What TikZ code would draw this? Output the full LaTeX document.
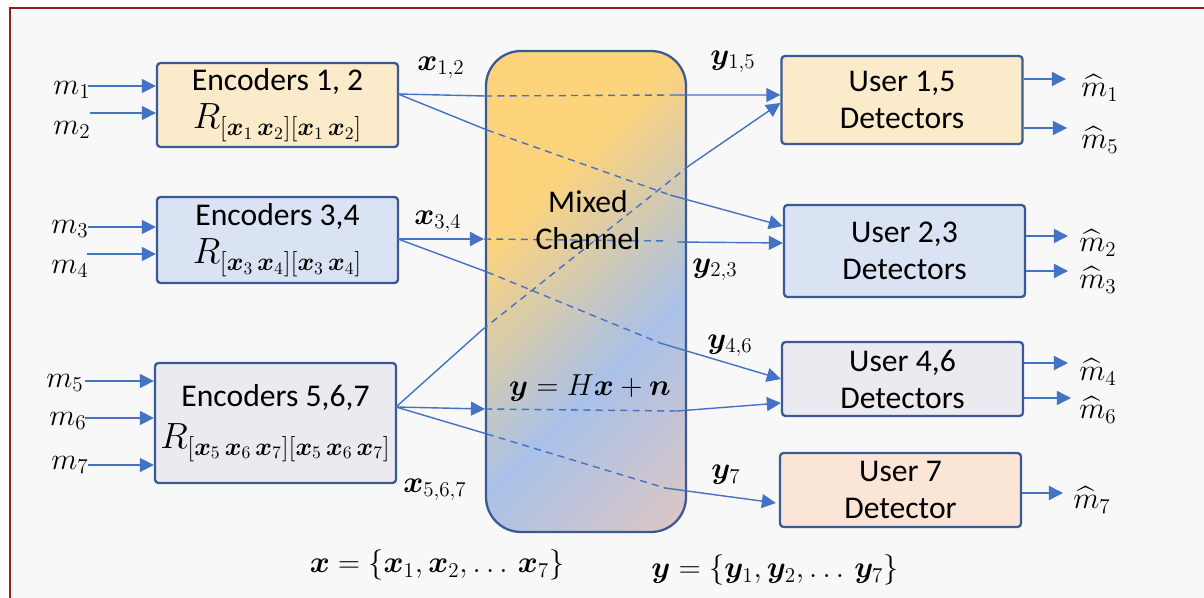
\documentclass[tikz,border=0pt]{standalone}
\usepackage{amsmath}
\usepackage{bm}
\usepackage{fontspec}
\setmainfont{Carlito}
\usepackage{tikz}
\usetikzlibrary{arrows.meta, positioning, calc, shadings}
\usepackage{xcolor}
\definecolor{pagebg}{HTML}{F8F8F8}
\definecolor{framered}{HTML}{9B1C1C}
\definecolor{boxline}{HTML}{3A5A96}
\definecolor{wire}{HTML}{4472C4}
\definecolor{goldfill}{HTML}{FCEBCB}
\definecolor{bluefill}{HTML}{DAE3F3}
\definecolor{lilacfill}{HTML}{ECEAF1}
\definecolor{peachfill}{HTML}{FBE5D6}
\definecolor{chorange}{HTML}{FDD37C}
\definecolor{chblue}{HTML}{A9C1E8}
\definecolor{chpeach}{HTML}{F2C9B5}
\pgfdeclarehorizontalshading{chanshade}{100bp}{color(0bp)=(chorange); color(39bp)=(chorange); color(50bp)=(chblue); color(64bp)=(chpeach); color(100bp)=(chpeach)}

\begin{document}
\begin{tikzpicture}[
    every node/.style={font=\fontsize{18}{21}\selectfont},
    enc/.style={draw=boxline, line width=1.3pt, rounded corners=2pt,
                minimum width=4.82cm, align=center, inner sep=1pt},
    usr/.style={draw=boxline, line width=1.3pt, rounded corners=2pt,
                minimum width=4.82cm, align=center, inner sep=1pt},
    chan/.style={draw=boxline, line width=1.3pt, rounded corners=0.7cm,
                 minimum width=4cm, minimum height=9.62cm,
                 path picture={\shade[shading=chanshade, shading angle=-45]
                   ($(path picture bounding box.center)+(0,-2.10)$) +(-8,-8) rectangle +(8,8);}},
    wire/.style={draw=wire, line width=0.8pt},
    dsh/.style={wire, dash pattern=on 4pt off 3pt},
    arr/.style={wire, -{Triangle[length=8pt, width=8pt]}}
]
    \useasboundingbox (0,0) rectangle (24.08,-11.96);
    \fill[pagebg] (0.2,-0.16) rectangle (24.4,-12.3);
    \draw[framered, line width=1.6pt] (0.2,-0.16) rectangle (24.4,-12.3);

    \node[chan] (chan) at (11.72,-5.83) {};

    \node[enc, fill=goldfill, minimum height=1.68cm] (enc12) at (5.55,-2.10)
        {Encoders 1, 2\\[1pt] \fontsize{20}{22}\selectfont$R_{[\bm{x}_1\,\bm{x}_2][\bm{x}_1\,\bm{x}_2]}$};
    \node[enc, fill=bluefill, minimum height=1.72cm] (enc34) at (5.55,-4.80)
        {Encoders 3,4\\[1pt] \fontsize{20}{22}\selectfont$R_{[\bm{x}_3\,\bm{x}_4][\bm{x}_3\,\bm{x}_4]}$};
    \node[enc, fill=lilacfill, minimum height=2.40cm] (enc567) at (5.51,-8.46)
        {Encoders 5,6,7\\[3pt] \fontsize{20}{22}\selectfont$R_{[\bm{x}_5\,\bm{x}_6\,\bm{x}_7][\bm{x}_5\,\bm{x}_6\,\bm{x}_7]}$};

    \node[usr, fill=goldfill, minimum height=1.76cm] (usr15) at (18.04,-2.00) {User 1,5\\Detectors};
    \node[usr, fill=bluefill, minimum height=1.84cm] (usr23) at (18.09,-5.02) {User 2,3\\Detectors};
    \node[usr, fill=lilacfill, minimum height=1.48cm] (usr46) at (18.05,-7.58) {User 4,6\\Detectors};
    \node[usr, fill=peachfill, minimum height=1.48cm] (usr7) at (18.01,-9.80) {User 7\\Detector};

    \node (m1) at (1.44,-1.80) {$m_1$};
    \node (m2) at (1.44,-2.60) {$m_2$};
    \node (m3) at (1.40,-4.58) {$m_3$};
    \node (m4) at (1.40,-5.38) {$m_4$};
    \node (m5) at (1.30,-7.66) {$m_5$};
    \node (m6) at (1.36,-8.42) {$m_6$};
    \node (m7) at (1.40,-9.30) {$m_7$};
    \coordinate (s1) at (1.76,-1.72);
    \coordinate (s2) at (1.80,-2.26);
    \coordinate (s3) at (1.76,-4.54);
    \coordinate (s4) at (1.74,-5.08);
    \coordinate (s5) at (1.70,-7.62);
    \coordinate (s6) at (1.70,-8.36);
    \coordinate (s7) at (1.76,-9.30);
    \draw[arr] (s1) -- (enc12.west |- s1);
    \draw[arr] (s2) -- (enc12.west |- s2);
    \draw[arr] (s3) -- (enc34.west |- s3);
    \draw[arr] (s4) -- (enc34.west |- s4);
    \draw[arr] (s5) -- (enc567.west |- s5);
    \draw[arr] (s6) -- (enc567.west |- s6);
    \draw[arr] (s7) -- (enc567.west |- s7);

    \node (h1) at (22.00,-1.76) {$\widehat{m}_1$};
    \node (h5) at (22.00,-2.80) {$\widehat{m}_5$};
    \node (h2) at (21.96,-4.86) {$\widehat{m}_2$};
    \node (h3) at (21.96,-5.60) {$\widehat{m}_3$};
    \node (h4) at (21.96,-7.44) {$\widehat{m}_4$};
    \node (h6) at (21.96,-8.20) {$\widehat{m}_6$};
    \node (h7) at (21.84,-10.00) {$\widehat{m}_7$};
    \coordinate (t1) at (21.32,-1.58);
    \coordinate (t5) at (21.34,-2.56);
    \coordinate (t2) at (21.36,-4.72);
    \coordinate (t3) at (21.36,-5.42);
    \coordinate (t4) at (21.36,-7.26);
    \coordinate (t6) at (21.42,-7.96);
    \coordinate (t7) at (21.26,-9.86);
    \draw[arr] (usr15.east |- t1) -- (t1);
    \draw[arr] (usr15.east |- t5) -- (t5);
    \draw[arr] (usr23.east |- t2) -- (t2);
    \draw[arr] (usr23.east |- t3) -- (t3);
    \draw[arr] (usr46.east |- t4) -- (t4);
    \draw[arr] (usr46.east |- t6) -- (t6);
    \draw[arr] (usr7.east |- t7) -- (t7);

    \coordinate (o12) at (7.96,-1.88);
    \coordinate (o34) at (7.96,-4.78);
    \coordinate (o567) at (7.92,-8.14);
    \coordinate (a1) at (9.70,-1.92);
    \coordinate (b1) at (13.46,-1.90);
    \coordinate (a2) at (9.74,-2.60);
    \coordinate (b2) at (13.40,-3.90);
    \coordinate (a3) at (9.68,-4.78);
    \coordinate (b3) at (13.36,-4.82);
    \coordinate (c3) at (13.54,-4.84);
    \coordinate (a4) at (9.74,-5.44);
    \coordinate (b4) at (13.20,-6.86);
    \coordinate (a5) at (9.64,-6.60);
    \coordinate (b5) at (13.80,-3.30);
    \coordinate (a6) at (9.70,-8.18);
    \coordinate (b6) at (13.54,-8.22);
    \coordinate (a7) at (9.74,-8.68);
    \coordinate (b7) at (13.30,-9.76);

    \draw[wire] (o12) -- (a1);
    \draw[dsh] (a1) -- (b1);
    \draw[arr] (b1) -- ($(usr15.west)+(0,0.10)$);
    \draw[wire] (o12) -- (a2);
    \draw[dsh] (a2) -- (b2);
    \draw[arr] (b2) -- ($(usr23.west)+(0,0.50)$);
    \draw[arr] (o34) -- (a3);
    \draw[dsh] (a3) -- (b3);
    \draw[arr] (c3) -- ($(usr23.west)+(0,0.16)$);
    \draw[wire] (o34) -- (a4);
    \draw[dsh] (a4) -- (b4);
    \draw[arr] (b4) -- (usr46.west);
    \draw[wire] (o567) -- (a5);
    \draw[dsh] (a5) -- (b5);
    \draw[arr] (b5) -- ($(usr15.west)+(0,-0.06)$);
    \draw[arr] (o567) -- (a6);
    \draw[dsh] (a6) -- (b6);
    \draw[arr] (b6) -- ($(usr46.west)+(0,-0.48)$);
    \draw[wire] (o567) -- (a7);
    \draw[dsh] (a7) -- (b7);
    \draw[arr] (b7) -- ($(usr7.west)+(-0.06,-0.26)$);

    \node[align=center] (mixlbl) at (11.76,-4.40) {Mixed\\Channel};
    \node[font=\fontsize{16}{19}\selectfont] (model) at (11.80,-7.76) {$\bm{y}=H\bm{x}+\bm{n}$};

    \node (x12) at (8.82,-1.36) {$\bm{x}_{1,2}$};
    \node (x34) at (8.76,-4.44) {$\bm{x}_{3,4}$};
    \node (x567) at (8.70,-9.80) {$\bm{x}_{5,6,7}$};
    \node (y15) at (14.66,-1.24) {$\bm{y}_{1,5}$};
    \node (y23) at (14.30,-5.40) {$\bm{y}_{2,3}$};
    \node (y46) at (14.60,-6.92) {$\bm{y}_{4,6}$};
    \node (y7) at (14.52,-9.50) {$\bm{y}_7$};

    \node (xset) at (8.74,-11.30) {$\bm{x}=\{\bm{x}_1,\bm{x}_2,\ldots\,\bm{x}_7\}$};
    \node (yset) at (15.50,-11.40) {$\bm{y}=\{\bm{y}_1,\bm{y}_2,\ldots\,\bm{y}_7\}$};
\end{tikzpicture}
\end{document}
